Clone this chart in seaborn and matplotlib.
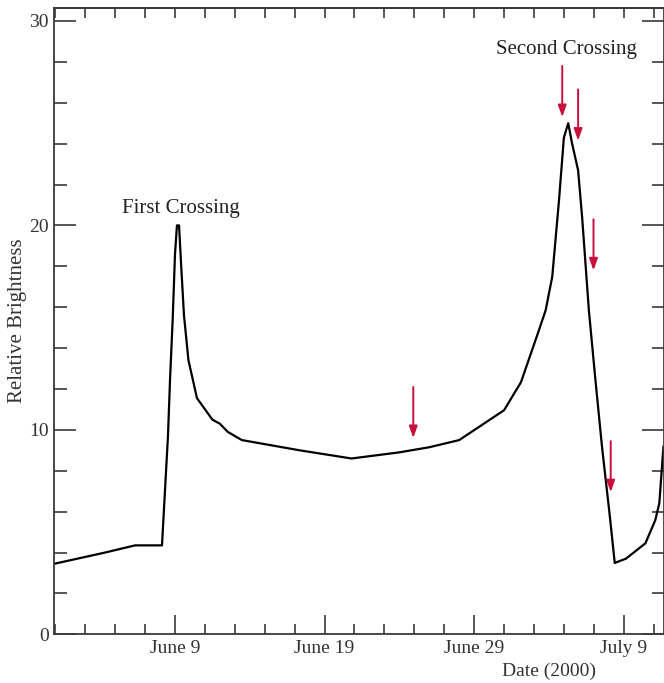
import numpy as np
import pandas as pd
import matplotlib
matplotlib.use("Agg")
import matplotlib.pyplot as plt
import matplotlib.dates as mdates
import seaborn as sns

# ---- data (x as "day of June 2000", July d = 30 + d) ----
day = [0.93, 4.33, 6.33, 8.13, 8.53, 8.67, 8.85, 9.0, 9.13, 9.27, 9.4,
       9.6, 9.9, 10.47, 11.5, 12.0, 12.53, 13.47, 17.33, 20.8, 24.0,
       26.0, 28.0, 31.0, 32.13, 33.33, 33.78, 34.22, 34.67, 35.0, 35.29,
       35.55, 35.95, 36.22, 36.67, 37.11, 37.55, 38.05, 38.4, 39.15,
       40.45, 41.11, 41.38, 41.66]
brightness = [3.45, 4.0, 4.35, 4.35, 9.7, 12.5, 15.5, 18.6, 20.0, 20.0,
              18.2, 15.6, 13.4, 11.55, 10.5, 10.3, 9.9, 9.5, 9.0, 8.6,
              8.9, 9.15, 9.5, 10.96, 12.33, 14.87, 15.85, 17.48, 21.2,
              24.3, 25.0, 24.0, 22.7, 20.4, 15.85, 12.43, 9.16, 5.92,
              3.49, 3.70, 4.45, 5.58, 6.41, 9.2]

arrow_day = [24.93, 34.89, 35.95, 36.98, 38.13]
arrow_tip = [9.6, 25.3, 24.15, 17.8, 6.95]

major_tick_days = [9, 19, 29, 39]
major_tick_labels = ["June 9", "June 19", "June 29", "July 9"]
y_ticks = [0, 10, 20, 30]

labels_text = ["First Crossing", "Second Crossing"]
labels_day = [9.4, 35.2]
labels_y = [20.85, 28.6]

base = pd.Timestamp("2000-05-31")
def to_date(d):
    return base + pd.to_timedelta(np.asarray(d, dtype=float), unit="D")

df = pd.DataFrame({"date": to_date(day), "brightness": brightness})

# ---- style ----
sns.set_style("ticks")
plt.rcParams["font.family"] = ["Liberation Serif", "DejaVu Serif"]
dark = "#3a3a3a"
red = "#c8103c"

fig = plt.figure(figsize=(6.64, 6.83), dpi=100)
ax = fig.add_axes([54.3 / 664, 48.7 / 683, 609.2 / 664, 626.6 / 683])

sns.lineplot(data=df, x="date", y="brightness", color="black", lw=1.6,
             ax=ax, estimator=None, sort=False)

ax.set_xlim(to_date([0.93])[0], to_date([41.66])[0])
ax.set_ylim(0, 30.65)

ax.set_xticks(list(to_date(major_tick_days)))
ax.set_xticklabels(major_tick_labels)
ax.xaxis.set_minor_locator(mdates.DayLocator(bymonthday=range(1, 32, 2)))
ax.set_yticks(y_ticks)
ax.yaxis.set_minor_locator(matplotlib.ticker.MultipleLocator(2))

for s in ax.spines.values():
    s.set_visible(True)
    s.set_color(dark)
    s.set_linewidth(1.3)

ax.tick_params(axis="both", which="both", direction="in", color=dark,
               width=1.2, labelcolor="#333333", labelsize=14, pad=4)
ax.tick_params(axis="x", which="both", top=False, bottom=True)
ax.tick_params(axis="y", which="both", left=True, right=True)
ax.tick_params(axis="x", which="major", length=14)
ax.tick_params(axis="x", which="minor", length=7)
ax.tick_params(axis="y", which="major", length=16)
ax.tick_params(axis="y", which="minor", length=9)

sec = ax.secondary_xaxis("top")
sec.xaxis.set_major_locator(mdates.DayLocator(bymonthday=range(1, 32, 2)))
sec.tick_params(axis="x", which="both", direction="in", length=7,
                width=1.2, color=dark, labeltop=False)
sec.spines["top"].set_color(dark)
sec.spines["top"].set_linewidth(1.3)

ax.set_xlabel("Date (2000)", fontsize=14, color="#333333")
ax.xaxis.set_label_coords(0.812, -0.046)
ax.set_ylabel("Relative Brightness", fontsize=15, color="#333333")
ax.yaxis.set_label_coords(-0.045, 0.5)

for txt, d, y in zip(labels_text, labels_day, labels_y):
    ax.text(to_date([d])[0], y, txt, fontsize=15, color="#222222",
            ha="center", va="center")

for d, tip in zip(arrow_day, arrow_tip):
    xd = to_date([d])[0]
    ax.annotate("", xy=(xd, tip), xytext=(xd, tip + 2.5),
                arrowprops=dict(arrowstyle="-|>,head_length=0.7,head_width=0.25",
                                color=red, lw=1.4, shrinkA=0, shrinkB=0))

fig.savefig("out.png", dpi=100)
